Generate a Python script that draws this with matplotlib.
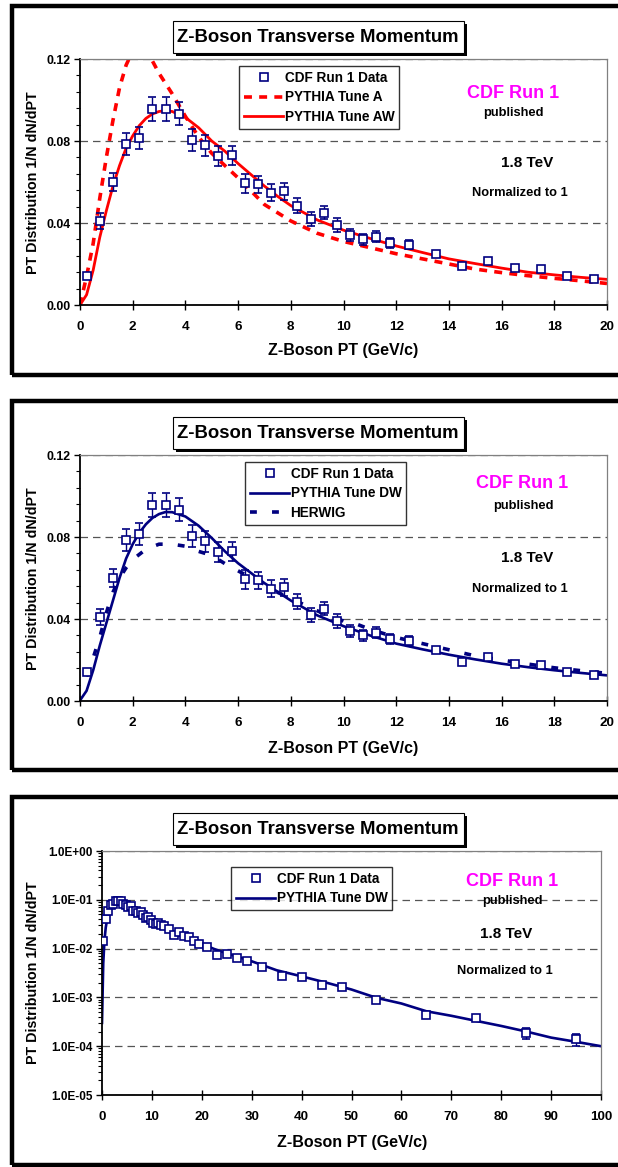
import matplotlib
matplotlib.use('Agg')
import matplotlib.pyplot as plt
from matplotlib.lines import Line2D
from matplotlib.patches import Rectangle
from matplotlib.ticker import MultipleLocator, LogLocator, NullFormatter

# Z-boson pT, CDF Run 1 vs PYTHIA / HERWIG  (3 panels)
plt.rcParams['font.family'] = ['Liberation Sans', 'DejaVu Sans']
plt.rcParams['font.weight'] = 'bold'

W, H = 618, 1167
NAVY = '#000080'
RED = '#ff0000'

# CDF data, 0-20 GeV
pt_x = [0.25, 0.75, 1.25, 1.75, 2.25, 2.75, 3.25, 3.75, 4.25, 4.75, 5.25, 5.75,
        6.25, 6.75, 7.25, 7.75, 8.25, 8.75, 9.25, 9.75, 10.25, 10.75, 11.25, 11.75,
        12.5, 13.5, 14.5, 15.5, 16.5, 17.5, 18.5, 19.5]
pt_y = [0.014, 0.041, 0.060, 0.0785, 0.0816, 0.0955, 0.0955, 0.0932, 0.0805, 0.078, 0.0727, 0.073,
        0.0593, 0.0589, 0.0548, 0.0554, 0.0485, 0.042, 0.045, 0.0389, 0.0341, 0.032, 0.0333, 0.0304,
        0.0295, 0.0247, 0.0192, 0.0215, 0.0182, 0.0176, 0.0143, 0.0125]
pt_err = [0.001, 0.004, 0.0046, 0.0055, 0.0054, 0.0058, 0.0058, 0.0056, 0.0053, 0.0051, 0.0047, 0.0047,
          0.0045, 0.0042, 0.004, 0.004, 0.0038, 0.0034, 0.0032, 0.0034, 0.003, 0.0028, 0.0027, 0.0025,
          0.002, 0.0015, 0.0012, 0.0012, 0.001, 0.001, 0.0009, 0.0008]

# CDF data above 20 GeV (log panel only)
tail_x = [21, 23, 25, 27, 29, 32, 36, 40, 44, 48, 55, 65, 75, 85, 95]
tail_y = [0.0107, 0.0075, 0.0077, 0.0064, 0.0057, 0.0041, 0.0027, 0.0026, 0.0018, 0.0016,
          0.00087, 0.00043, 0.00037, 0.00019, 0.00014]
tail_err = [0.0004, 0.0003, 0.0003, 0.0003, 0.0002, 0.00015, 0.0001, 0.0001, 0.00008, 0.00007,
            0.00004, 0.00004, 0.00004, 0.00005, 0.00004]

# PYTHIA Tune A (dashed red)
tuneA_x = [0, 0.25, 0.5, 0.75, 1.0, 1.25, 1.5, 1.75, 2.0, 2.25, 2.5, 2.75, 3.0, 3.5, 4.0, 4.5,
           5.0, 5.5, 6.0, 7, 8, 9, 10, 11, 12, 13, 14, 15, 16, 17, 18, 19, 20]
tuneA_y = [0, 0.014, 0.030, 0.052, 0.072, 0.090, 0.106, 0.117, 0.124, 0.126, 0.124, 0.119, 0.113,
           0.103, 0.092, 0.082, 0.074, 0.068, 0.062, 0.049, 0.041, 0.035, 0.031, 0.028, 0.025,
           0.0225, 0.020, 0.0175, 0.0158, 0.0143, 0.013, 0.0118, 0.0105]

# PYTHIA Tune AW (solid red)
tuneAW_x = [0, 0.25, 0.5, 0.75, 1.0, 1.25, 1.5, 1.75, 2.0, 2.25, 2.5, 2.75, 3.0, 3.25, 3.5, 4.0,
            4.5, 5.0, 5.5, 6.0, 6.5, 7, 7.5, 8, 9, 10, 11, 12, 13, 14, 15, 16, 17, 18, 19, 20]
tuneAW_y = [0, 0.005, 0.017, 0.033, 0.046, 0.058, 0.068, 0.0765, 0.0825, 0.0875, 0.091, 0.0932,
            0.0944, 0.0948, 0.0944, 0.0915, 0.0865, 0.080, 0.075, 0.069, 0.0635, 0.058, 0.053,
            0.0485, 0.0415, 0.0365, 0.0325, 0.0288, 0.0256, 0.0225, 0.0202, 0.018, 0.016,
            0.0147, 0.0135, 0.0125]

# PYTHIA Tune DW (solid navy), 0-100 GeV
tuneDW_x = [0, 0.25, 0.5, 0.75, 1.0, 1.25, 1.5, 1.75, 2.0, 2.25, 2.5, 2.75, 3.0, 3.25, 3.5, 4.0,
            4.5, 5.0, 5.5, 6.0, 7, 8, 9, 10, 11, 12, 13, 14, 15, 16, 17, 18, 19, 20,
            22.5, 25, 30, 35, 40, 45, 50, 55, 60, 65, 70, 75, 80, 85, 90, 95, 100]
tuneDW_y = [0.0003, 0.005, 0.015, 0.027, 0.038, 0.049, 0.060, 0.0695, 0.0765, 0.082, 0.0862,
            0.0893, 0.0912, 0.0922, 0.0921, 0.090, 0.0855, 0.0795, 0.073, 0.0672, 0.0575, 0.049,
            0.0418, 0.0365, 0.032, 0.028, 0.0252, 0.0226, 0.0203, 0.0182, 0.0165, 0.015, 0.0137,
            0.0125, 0.0098, 0.008, 0.0055, 0.0036, 0.0027, 0.002, 0.00145, 0.00098, 0.00075,
            0.00052, 0.00042, 0.00033, 0.00026, 0.0002, 0.00015, 0.000123, 0.0001]

# HERWIG (dashed navy)
herwig_x = [0.25, 0.5, 0.75, 1.0, 1.25, 1.5, 1.75, 2.0, 2.5, 3.0, 3.5, 4.0, 4.5, 5.0, 5.5, 6.0,
            6.5, 7.0, 7.5, 8.0, 8.5, 9.0, 9.5, 10, 10.5, 11, 12, 13, 14, 15, 16, 17, 18, 19, 20]
herwig_y = [0.012, 0.021, 0.031, 0.043, 0.053, 0.060, 0.065, 0.069, 0.074, 0.0765, 0.0765,
            0.0755, 0.073, 0.071, 0.067, 0.0635, 0.060, 0.057, 0.053, 0.050, 0.047, 0.044,
            0.0415, 0.039, 0.0375, 0.035, 0.031, 0.028, 0.025, 0.022, 0.020, 0.018, 0.0162,
            0.0148, 0.0135]

lin_ticks = [0, 0.04, 0.08, 0.12]
lin_labels = ['0.00', '0.04', '0.08', '0.12']
log_ticks = [1e-5, 1e-4, 1e-3, 1e-2, 1e-1, 1]
log_labels = ['1.0E-05', '1.0E-04', '1.0E-03', '1.0E-02', '1.0E-01', '1.0E+00']

fig = plt.figure(figsize=(W / 100, H / 100), dpi=100)


def add_ax(l, t, r, b):
    return fig.add_axes([l / W, 1 - b / H, (r - l) / W, (b - t) / H])


def ftext(x, y, s, **kw):
    fig.text(x / W, 1 - y / H, s, ha='center', va='center', **kw)


def frame_and_title(top, bot, title_y):
    fig.add_artist(Rectangle((12 / W, 1 - bot / H), 700 / W, (bot - top) / H,
                             transform=fig.transFigure, fill=False, lw=3.2, ec='black'))
    x0, x1, h = 173, 464, 32
    y0 = title_y - 16
    fig.add_artist(Rectangle(((x0 + 3) / W, 1 - (y0 + h + 3) / H), (x1 - x0) / W, h / H,
                             transform=fig.transFigure, fc='black', ec='none'))
    fig.add_artist(Rectangle((x0 / W, 1 - (y0 + h) / H), (x1 - x0) / W, h / H,
                             transform=fig.transFigure, fc='white', ec='black', lw=0.8))
    ftext(318, title_y + 1, 'Z-Boson Transverse Momentum', fontsize=13.3, weight='bold')


def style_ax(ax):
    for s in ['left', 'bottom']:
        ax.spines[s].set_color('black')
        ax.spines[s].set_linewidth(1.3)
    for s in ['top', 'right']:
        ax.spines[s].set_color('#808080')
        ax.spines[s].set_linewidth(0.9)
    ax.tick_params(axis='x', direction='inout', length=7, width=1, pad=8, labelsize=9.7)
    ax.tick_params(axis='y', which='major', direction='out', length=4, width=1, pad=3,
                   labelsize=8.9)
    ax.tick_params(axis='y', which='minor', direction='out', length=3, width=0.8)
    ax.yaxis.grid(True, which='major', color='#555555', lw=0.9, linestyle=(0, (6, 4)))
    ax.set_axisbelow(True)


def annotate(ys, xs):
    ftext(xs[0], ys[0], 'CDF Run 1', fontsize=13, weight='bold', color='#ff00ff')
    ftext(xs[1], ys[1], 'published', fontsize=9.3, weight='bold')
    ftext(xs[2], ys[2], '1.8 TeV', fontsize=11, weight='bold')
    ftext(xs[3], ys[3], 'Normalized to 1', fontsize=9.3, weight='bold')


def data_handle():
    return Line2D([], [], ls='none', marker='s', ms=6, mfc='white', mec=NAVY, mew=1.2)


def legend(ax, x, y, handles, labels):
    leg = ax.legend(handles, labels, loc='upper left', bbox_to_anchor=(x / W, 1 - y / H),
                    bbox_transform=fig.transFigure, fontsize=9.8, frameon=True, fancybox=False,
                    edgecolor='black', borderpad=0.35, labelspacing=0.42, handlelength=2.9,
                    handletextpad=0.1, borderaxespad=0)
    leg.get_frame().set_linewidth(1.0)
    for t in leg.get_texts():
        t.set_fontweight('bold')


def lin_axes(ax):
    ax.set_xlim(0, 20)
    ax.set_ylim(0, 0.12)
    ax.set_xticks(range(0, 21, 2))
    ax.set_yticks(lin_ticks, lin_labels)
    ax.yaxis.set_minor_locator(MultipleLocator(0.008))
    style_ax(ax)


HW_DASH = (1.9, 4.2)
A_DASH = (2.2, 2.0)

# ---------- panel 1 ----------
frame_and_title(6, 375, 37)
ax1 = add_ax(80, 59, 607, 305)
lin_axes(ax1)
ax1.plot(tuneA_x, tuneA_y, color=RED, lw=2.6, dashes=A_DASH)
ax1.plot(tuneAW_x, tuneAW_y, color=RED, lw=2.0)
ax1.errorbar(pt_x, pt_y, yerr=pt_err, fmt='s', ms=6, mfc='white', mec=NAVY, mew=1.2,
             ecolor=NAVY, elinewidth=1, capsize=3, capthick=1, zorder=4)
legend(ax1, 239, 66,
       [data_handle(), Line2D([], [], color=RED, lw=2.6, dashes=A_DASH),
        Line2D([], [], color=RED, lw=2.0)],
       ['CDF Run 1 Data', 'PYTHIA Tune A', 'PYTHIA Tune AW'])
annotate([93, 113, 163, 193], [513, 513, 527, 520])
ftext(33, 183, 'PT Distribution 1/N dN/dPT', fontsize=10.3, weight='bold', rotation=90)
ftext(343, 351, 'Z-Boson PT (GeV/c)', fontsize=11.5, weight='bold')

# ---------- panel 2 ----------
frame_and_title(401, 770, 433)
ax2 = add_ax(80, 455, 607, 701)
lin_axes(ax2)
ax2.plot(herwig_x, herwig_y, color=NAVY, lw=2.6, dashes=HW_DASH)
ax2.plot(tuneDW_x, tuneDW_y, color=NAVY, lw=1.9)
ax2.errorbar(pt_x, pt_y, yerr=pt_err, fmt='s', ms=6, mfc='white', mec=NAVY, mew=1.2,
             ecolor=NAVY, elinewidth=1, capsize=3, capthick=1, zorder=4)
legend(ax2, 245, 462,
       [data_handle(), Line2D([], [], color=NAVY, lw=1.9),
        Line2D([], [], color=NAVY, lw=2.6, dashes=HW_DASH)],
       ['CDF Run 1 Data', 'PYTHIA Tune DW', 'HERWIG'])
annotate([484, 506, 558, 589], [522, 523, 527, 520])
ftext(33, 579, 'PT Distribution 1/N dN/dPT', fontsize=10.3, weight='bold', rotation=90)
ftext(343, 748, 'Z-Boson PT (GeV/c)', fontsize=11.5, weight='bold')

# ---------- panel 3 (log) ----------
frame_and_title(797, 1165, 829)
ax3 = add_ax(102, 851, 601, 1095)
ax3.set_yscale('log')
ax3.set_xlim(0, 100)
ax3.set_ylim(1e-5, 1)
ax3.set_xticks(range(0, 101, 10))
ax3.set_yticks(log_ticks, log_labels)
ax3.yaxis.set_minor_locator(LogLocator(base=10, subs=range(2, 10)))
ax3.yaxis.set_minor_formatter(NullFormatter())
style_ax(ax3)
ax3.tick_params(axis='y', which='major', labelsize=8.5)
ax3.plot(tuneDW_x, tuneDW_y, color=NAVY, lw=1.9)
ax3.errorbar(pt_x + tail_x, pt_y + tail_y, yerr=pt_err + tail_err, fmt='s', ms=6,
             mfc='white', mec=NAVY, mew=1.2, ecolor=NAVY, elinewidth=1, capsize=3,
             capthick=1, zorder=4)
legend(ax3, 231, 867,
       [data_handle(), Line2D([], [], color=NAVY, lw=1.9)],
       ['CDF Run 1 Data', 'PYTHIA Tune DW'])
annotate([881, 901, 934, 971], [512, 512, 506, 505])
ftext(33, 973, 'PT Distribution 1/N dN/dPT', fontsize=10.3, weight='bold', rotation=90)
ftext(352, 1143, 'Z-Boson PT (GeV/c)', fontsize=11.5, weight='bold')

fig.savefig('out.png', dpi=100)
